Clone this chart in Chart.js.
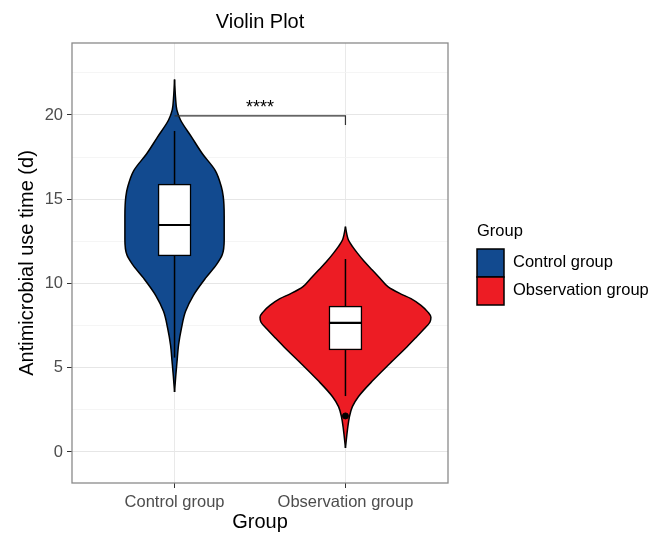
<!DOCTYPE html>
<html>
<head>
<meta charset="utf-8">
<script src="https://cdn.jsdelivr.net/npm/chart.js@4.4.0/dist/chart.umd.min.js"></script>
<style>
  html, body { margin: 0; padding: 0; background: #fff; }
  #wrap { width: 649px; height: 534px; }
</style>
</head>
<body>
<div id="wrap"><canvas id="chart" width="649" height="534"></canvas></div>
<script>
const TITLE = "Violin Plot";
const X_TITLE = "Group";
const Y_TITLE = "Antimicrobial use time (d)";
const LEGEND_TITLE = "Group";

const categories = ["Control group", "Observation group"];
const groupColors = ["#124a8f", "#ed1c24"];

// violin outlines: value, relative density (max = 1)
const controlY = [3.56, 4.5, 5.36, 6.35, 7.35, 8.33, 9.3, 10.3, 11.1, 11.7, 12.6, 14.0, 15.15, 15.75, 16.7, 17.7, 18.7, 19.7, 20.3, 21.0, 22.1];
const controlDensity = [0, 0.014, 0.029, 0.047, 0.081, 0.128, 0.221, 0.36, 0.488, 0.558, 0.581, 0.581, 0.57, 0.547, 0.477, 0.326, 0.198, 0.07, 0.027, 0.012, 0];
const observationY = [0.24, 1.3, 2.1, 2.69, 3.28, 4.27, 5.27, 6.25, 6.8, 7.3, 7.7, 8.0, 8.3, 8.7, 9.1, 9.4, 9.8, 10.3, 10.8, 11.3, 11.8, 12.2, 12.58, 12.9, 13.37];
const observationDensity = [0, 0.023, 0.047, 0.081, 0.151, 0.326, 0.523, 0.721, 0.826, 0.919, 0.988, 1, 0.965, 0.884, 0.767, 0.64, 0.5, 0.407, 0.314, 0.221, 0.14, 0.081, 0.035, 0.017, 0];

// boxplot stats per group
const boxQ1 = [11.63, 6.05];
const boxMedian = [13.47, 7.66];
const boxQ3 = [15.9, 8.66];
const whiskerLow = [5.6, 3.32];
const whiskerHigh = [19.05, 11.45];
const outlierGroup = [2];
const outlierValue = [2.14];

// significance bracket
const bracketY = 19.94;
const bracketDropY = 19.4;
const bracketLabel = "****";

const yTicks = [0, 2.5, 5, 7.5, 10, 12.5, 15, 17.5, 20, 22.5];
const Y_MIN = -1.84;
const Y_MAX = 24.27;

const VIOLIN_HALF = 0.5;
const BOX_HALF = 0.0965;
const FONT = '"Liberation Sans", Arial, Helvetica, sans-serif';

function violinSets(center, ys, dens, color) {
  const right = ys.map((y, i) => ({ x: center + VIOLIN_HALF * dens[i], y }));
  const left = ys.map((y, i) => ({ x: center - VIOLIN_HALF * dens[i], y }));
  const common = {
    type: "line",
    indexAxis: "y",
    borderColor: "#000",
    borderWidth: 1.5,
    pointRadius: 0,
    cubicInterpolationMode: "monotone",
  };
  return [
    { ...common, data: right, fill: "+1", backgroundColor: color, order: 21 },
    { ...common, data: left, fill: false, order: 20 },
  ];
}

const datasets = [
  ...violinSets(1, controlY, controlDensity, groupColors[0]),
  ...violinSets(2, observationY, observationDensity, groupColors[1]),
];

categories.forEach((name, i) => {
  const c = i + 1;
  datasets.push({
    type: "line",
    data: [{ x: c, y: boxQ3[i] }, { x: c, y: whiskerHigh[i] }],
    borderColor: "#000", borderWidth: 1.5, pointRadius: 0, order: 8,
  });
  datasets.push({
    type: "line",
    data: [{ x: c, y: whiskerLow[i] }, { x: c, y: boxQ1[i] }],
    borderColor: "#000", borderWidth: 1.5, pointRadius: 0, order: 8,
  });
  datasets.push({
    type: "line",
    data: [{ x: c - BOX_HALF, y: boxMedian[i] }, { x: c + BOX_HALF, y: boxMedian[i] }],
    borderColor: "#000", borderWidth: 2.2, pointRadius: 0, order: 3,
  });
});

datasets.push({
  type: "bar",
  data: categories.map((_, i) => ({ x: i + 1, y: [boxQ1[i], boxQ3[i]] })),
  backgroundColor: "#fff",
  borderColor: "#000",
  borderWidth: 1.5,
  borderSkipped: false,
  barThickness: 33,
  order: 5,
});

datasets.push({
  type: "scatter",
  data: outlierGroup.map((g, i) => ({ x: g, y: outlierValue[i] })),
  pointRadius: 3,
  backgroundColor: "#000",
  borderColor: "#000",
  order: 2,
});

datasets.push({
  type: "line",
  data: [{ x: 1, y: bracketY }, { x: 2, y: bracketY }, { x: 2, y: bracketDropY }],
  borderColor: "#333",
  borderWidth: 1.2,
  pointRadius: 0,
  order: 1,
});

const decorPlugin = {
  id: "decor",
  afterDraw(chart) {
    const { ctx, chartArea: a, scales } = chart;
    ctx.save();
    ctx.strokeStyle = "#8a8a8a";
    ctx.lineWidth = 1.3;
    ctx.strokeRect(a.left, a.top, a.right - a.left, a.bottom - a.top);

    const midX = (a.left + a.right) / 2;
    ctx.fillStyle = "#000";
    ctx.textAlign = "center";
    ctx.textBaseline = "middle";
    ctx.font = `20px ${FONT}`;
    ctx.fillText(TITLE, midX, 22);
    ctx.fillText(X_TITLE, midX, 522);

    ctx.save();
    ctx.translate(27, (a.top + a.bottom) / 2);
    ctx.rotate(-Math.PI / 2);
    ctx.fillText(Y_TITLE, 0, 0);
    ctx.restore();

    // stars above bracket
    ctx.font = `18px ${FONT}`;
    ctx.textBaseline = "alphabetic";
    ctx.fillText(bracketLabel, scales.x.getPixelForValue(1.5), 113);

    // legend
    ctx.textAlign = "left";
    ctx.textBaseline = "middle";
    ctx.font = `16.5px ${FONT}`;
    ctx.fillText(LEGEND_TITLE, 477, 231);
    categories.forEach((name, i) => {
      const top = 249 + i * 28;
      ctx.fillStyle = groupColors[i];
      ctx.fillRect(477, top, 27, 28);
      ctx.strokeStyle = "#000";
      ctx.lineWidth = 1.5;
      ctx.strokeRect(477, top, 27, 28);
      ctx.fillStyle = "#000";
      ctx.fillText(name, 513, top + 13);
    });
    ctx.restore();
  },
};

new Chart(document.getElementById("chart"), {
  type: "line",
  data: { datasets },
  options: {
    responsive: false,
    animation: false,
    events: [],
    devicePixelRatio: 1,
    layout: { padding: { top: 43, right: 201, left: 0, bottom: 0 } },
    plugins: { legend: { display: false }, tooltip: { enabled: false }, title: { display: false } },
    scales: {
      x: {
        type: "linear",
        min: 0.4,
        max: 2.6,
        offset: false,
        afterBuildTicks: (scale) => { scale.ticks = categories.map((_, i) => ({ value: i + 1 })); },
        afterFit: (scale) => { scale.height = 51; scale.paddingLeft = 0; scale.paddingRight = 0; },
        border: { display: false },
        grid: { offset: false, color: "#e9e9e9", lineWidth: 1, tickLength: 5, tickColor: "#333" },
        ticks: {
          color: "#4d4d4d",
          padding: 5,
          font: { family: FONT, size: 16.5 },
          maxRotation: 0,
          callback: (value) => categories[Math.round(value) - 1] || "",
        },
      },
      y: {
        type: "linear",
        min: Y_MIN,
        max: Y_MAX,
        afterBuildTicks: (scale) => { scale.ticks = yTicks.map((v) => ({ value: v })); },
        afterFit: (scale) => { scale.width = 72; scale.paddingTop = 0; scale.paddingBottom = 0; },
        border: { display: false },
        grid: {
          color: (c) => (c.tick && c.tick.value % 5 === 0 ? "#e6e6e6" : "#f3f3f3"),
          lineWidth: (c) => (c.tick && c.tick.value % 5 === 0 ? 1 : 0.8),
          tickLength: 5,
          tickColor: (c) => (c.tick && c.tick.value % 5 === 0 ? "#333" : "rgba(0,0,0,0)"),
        },
        ticks: {
          color: "#4d4d4d",
          padding: 4,
          font: { family: FONT, size: 16.5 },
          callback: (value) => (value % 5 === 0 ? String(value) : ""),
        },
      },
    },
  },
  plugins: [decorPlugin],
});
</script>
</body>
</html>
